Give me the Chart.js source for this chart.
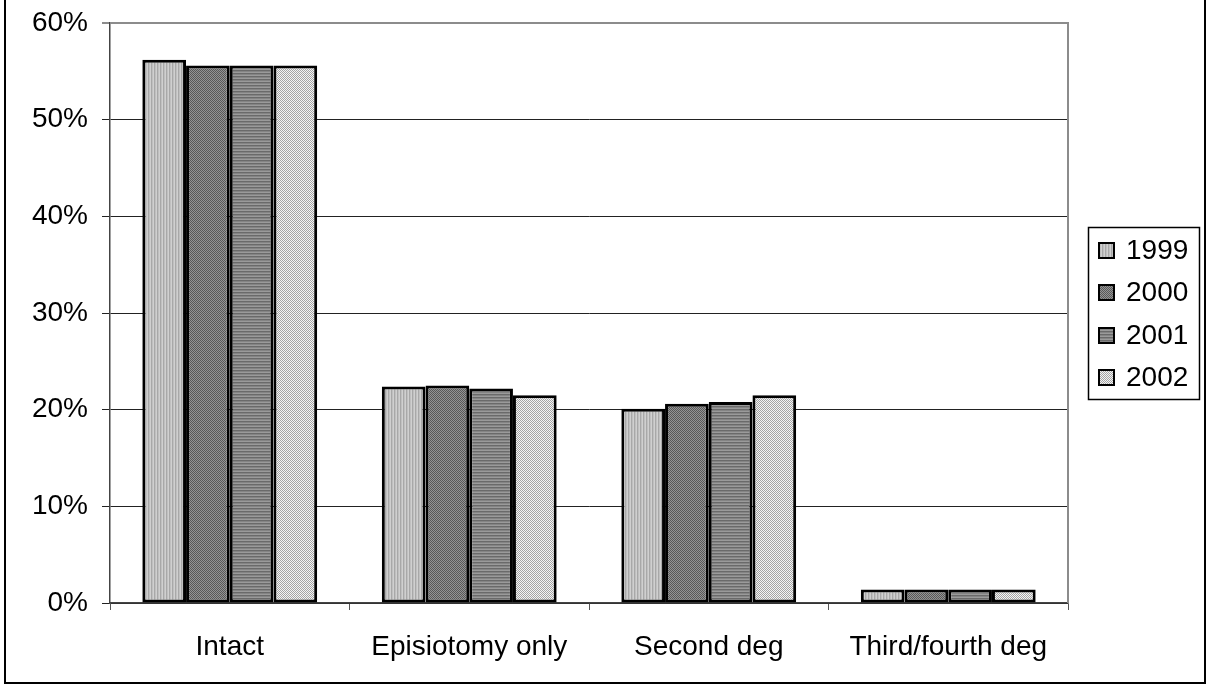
<!DOCTYPE html>
<html>
<head>
<meta charset="utf-8">
<script src="https://cdn.jsdelivr.net/npm/chart.js@4.4.1/dist/chart.umd.min.js"></script>
<style>
  html, body { margin: 0; padding: 0; background: #fff; }
  #wrap { position: relative; width: 1212px; height: 687px; overflow: hidden; }
  #frame { position: absolute; left: 4px; top: -2px; width: 1202px; height: 686px; border: 2px solid #000; box-sizing: border-box; pointer-events: none; }
  canvas { position: absolute; left: 0; top: 0; }
</style>
</head>
<body>
<div id="wrap">
  <canvas id="c" width="1212" height="687"></canvas>
  <div id="frame"></div>
</div>
<script>
const categories = ['Intact', 'Episiotomy only', 'Second deg', 'Third/fourth deg'];
const years = ['1999', '2000', '2001', '2002'];
const values1999 = [56.2, 22.4, 20.1, 1.4];
const values2000 = [55.6, 22.5, 20.6, 1.4];
const values2001 = [55.6, 22.2, 20.8, 1.4];
const values2002 = [55.6, 21.5, 21.5, 1.4];
const yTickValues = [0, 10, 20, 30, 40, 50, 60];

function makePattern(kind) {
  const t = document.createElement('canvas');
  const ctx = t.getContext('2d');
  if (kind === 'vstripe') {
    t.width = 3; t.height = 1;
    const cols = ['#d0d0d0', '#a8a8a8', '#c0c0c0'];
    cols.forEach((c, i) => { ctx.fillStyle = c; ctx.fillRect(i, 0, 1, 1); });
  } else if (kind === 'darkcheck') {
    t.width = 2; t.height = 2;
    ctx.fillStyle = '#949494'; ctx.fillRect(0, 0, 2, 2);
    ctx.fillStyle = '#585858'; ctx.fillRect(0, 0, 1, 1); ctx.fillRect(1, 1, 1, 1);
  } else if (kind === 'hstripe') {
    t.width = 1; t.height = 3;
    const cols = ['#9a9a9a', '#6a6a6a', '#848484'];
    cols.forEach((c, i) => { ctx.fillStyle = c; ctx.fillRect(0, i, 1, 1); });
  } else {
    t.width = 2; t.height = 2;
    ctx.fillStyle = '#f4f4f4'; ctx.fillRect(0, 0, 2, 2);
    ctx.fillStyle = '#a4a4a4'; ctx.fillRect(0, 0, 1, 1); ctx.fillRect(1, 1, 1, 1);
  }
  return document.getElementById('c').getContext('2d').createPattern(t, 'repeat');
}

const patterns = [makePattern('vstripe'), makePattern('darkcheck'), makePattern('hstripe'), makePattern('lightcheck')];
const seriesValues = [values1999, values2000, values2001, values2002];

const FONT = 'Liberation Sans, Arial, sans-serif';

const plotBorder = {
  id: 'plotBorder',
  afterDatasetsDraw(chart) {
    const { ctx, chartArea: a } = chart;
    ctx.save();
    ctx.strokeStyle = '#8c8c8c';
    ctx.lineWidth = 2;
    ctx.beginPath();
    ctx.moveTo(a.left, a.top);
    ctx.lineTo(a.right, a.top);
    ctx.lineTo(a.right, a.bottom);
    ctx.stroke();
    ctx.restore();
  }
};

const customLegend = {
  id: 'customLegend',
  afterDraw(chart) {
    const ctx = chart.ctx;
    ctx.save();
    ctx.strokeStyle = '#000';
    ctx.lineWidth = 1.5;
    ctx.strokeRect(1088.5, 227.5, 111, 172);
    ctx.font = '28px ' + FONT;
    ctx.textBaseline = 'middle';
    const centers = [250, 292, 335, 377];
    chart.data.datasets.forEach((ds, i) => {
      const cy = centers[i];
      ctx.fillStyle = ds.backgroundColor;
      ctx.fillRect(1099, cy - 7, 15, 15);
      ctx.strokeStyle = '#000';
      ctx.lineWidth = 2;
      ctx.strokeRect(1099, cy - 7, 15, 15);
      ctx.fillStyle = '#000';
      ctx.fillText(ds.label, 1126, cy + 1);
    });
    ctx.restore();
  }
};

new Chart(document.getElementById('c'), {
  type: 'bar',
  data: {
    labels: categories,
    datasets: years.map((y, i) => ({
      label: y,
      data: seriesValues[i],
      backgroundColor: patterns[i],
      borderColor: '#000',
      borderWidth: 3,
      borderSkipped: false,
      categoryPercentage: 0.73,
      barPercentage: 1.0
    }))
  },
  options: {
    responsive: false,
    devicePixelRatio: 1,
    animation: false,
    layout: { padding: { left: 0, right: 144, top: 23, bottom: 0 } },
    plugins: {
      legend: { display: false },
      tooltip: { enabled: false }
    },
    scales: {
      x: {
        offset: true,
        grid: { drawOnChartArea: false, drawTicks: true, tickLength: 7, color: '#555', offset: true },
        border: { display: true, color: '#444', width: 1.5 },
        ticks: { color: '#000', font: { family: FONT, size: 28 }, padding: 20, maxRotation: 0 },
        afterFit(scale) { scale.height = 84; scale.paddingLeft = 0; scale.paddingRight = 0; }
      },
      y: {
        min: 0,
        max: 60,
        afterBuildTicks(scale) { scale.ticks = yTickValues.map(v => ({ value: v })); },
        grid: {
          color: (c) => (c.tick && c.tick.value === 60 ? '#8c8c8c' : '#222'),
          lineWidth: (c) => (c.tick && c.tick.value === 60 ? 2 : 1),
          tickLength: 8,
          drawTicks: true
        },
        border: { display: true, color: '#444', width: 1.5 },
        ticks: {
          color: '#000',
          font: { family: FONT, size: 28 },
          padding: 14,
          callback: (v) => v + '%'
        },
        afterFit(scale) { scale.width = 110; scale.paddingTop = 0; scale.paddingBottom = 0; }
      }
    }
  },
  plugins: [plotBorder, customLegend]
});
</script>
</body>
</html>
